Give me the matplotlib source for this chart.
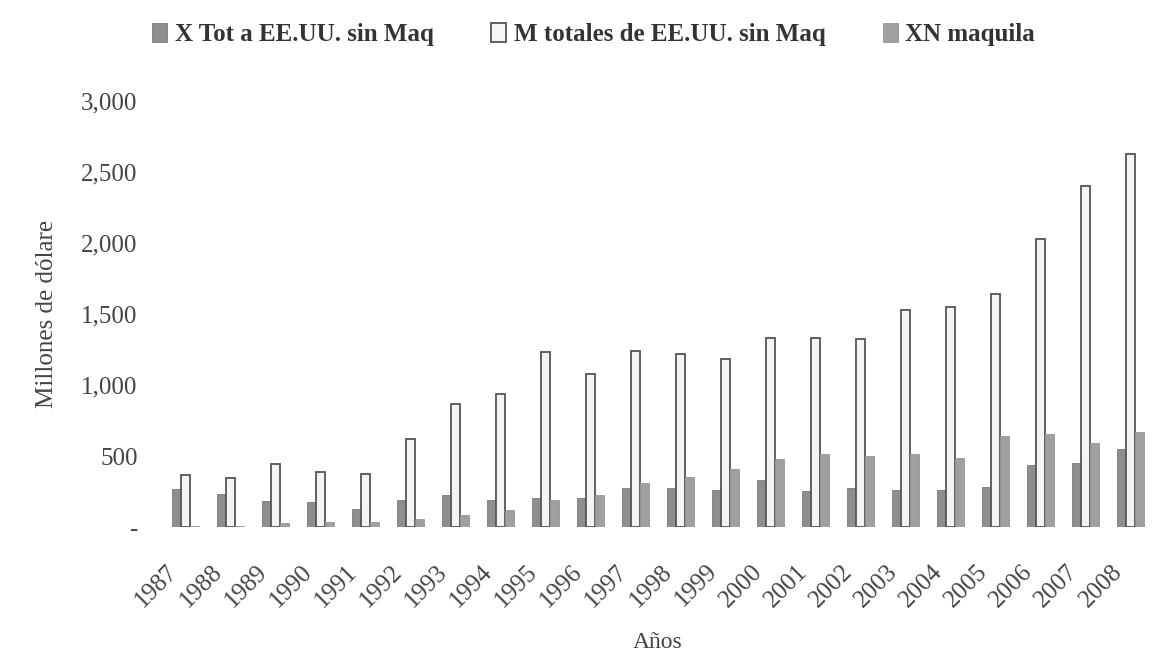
import numpy as np
import matplotlib.pyplot as plt
import matplotlib.transforms as mtransforms
from matplotlib.ticker import FuncFormatter

plt.rcParams['font.family'] = ['Liberation Serif', 'DejaVu Serif']

years = [str(y) for y in range(1987, 2009)]
x_tot = [265, 232, 183, 173, 129, 190, 227, 188, 202, 202, 274, 276, 260, 333,
         251, 276, 260, 260, 283, 438, 450, 548]
m_tot = [366, 342, 441, 384, 373, 623, 867, 940, 1232, 1080, 1240, 1221, 1186, 1334,
         1334, 1322, 1525, 1549, 1643, 2027, 2400, 2627]
xn_maq = [10, 10, 30, 33, 33, 56, 82, 117, 190, 225, 307, 354, 405, 476,
          513, 501, 513, 487, 642, 654, 593, 666]

fig = plt.figure(figsize=(11.53, 6.6), dpi=100)
ax = fig.add_axes([0.141, 0.2015, 0.859, 0.6455])

x = np.arange(len(years))
w = 0.2
ax.bar(x - w, x_tot, w, color='#8e8e8e', edgecolor='#7a7a7a', linewidth=0.6,
       label='X Tot a EE.UU. sin Maq')
ax.bar(x, m_tot, w, color='#f4f4f4', edgecolor='#555555', linewidth=1.3,
       label='M totales de EE.UU. sin Maq')
ax.bar(x + w, xn_maq, w, color='#a0a0a0', edgecolor='#959595', linewidth=0.6,
       label='XN maquila')

ax.set_xlim(-0.5, len(years) - 0.5)
ax.set_ylim(0, 3000)
ax.set_yticks(np.arange(0, 3001, 500))
ax.yaxis.set_major_formatter(FuncFormatter(lambda v, p: '-' if v == 0 else f'{int(v):,}'))
ax.set_xticks(x)
ax.set_xticklabels(years, rotation=45, ha='right', rotation_mode='anchor')

for s in ax.spines.values():
    s.set_visible(False)
ax.tick_params(axis='both', length=0, colors='#444444')
ax.tick_params(axis='y', labelsize=18, pad=18)
ax.tick_params(axis='x', labelsize=18, pad=24)

# nudge year labels to the left, as in the original
shift = mtransforms.ScaledTranslation(-19 / 100, 0, fig.dpi_scale_trans)
for lbl in ax.get_xticklabels():
    lbl.set_transform(lbl.get_transform() + shift)

ax.set_ylabel('Millones de dólare', fontsize=18, color='#444444', labelpad=17)
ax.set_xlabel('Años', fontsize=17, color='#444444', labelpad=15)

ax.legend(loc='upper center', bbox_to_anchor=(0.515, 1.0), bbox_transform=fig.transFigure,
          ncol=3, frameon=False, handlelength=0.6, handleheight=0.8, handletextpad=0.3,
          columnspacing=2.3, prop={'weight': 'bold', 'size': 18}, labelcolor='#333333')

fig.savefig('out.png', dpi=100)
